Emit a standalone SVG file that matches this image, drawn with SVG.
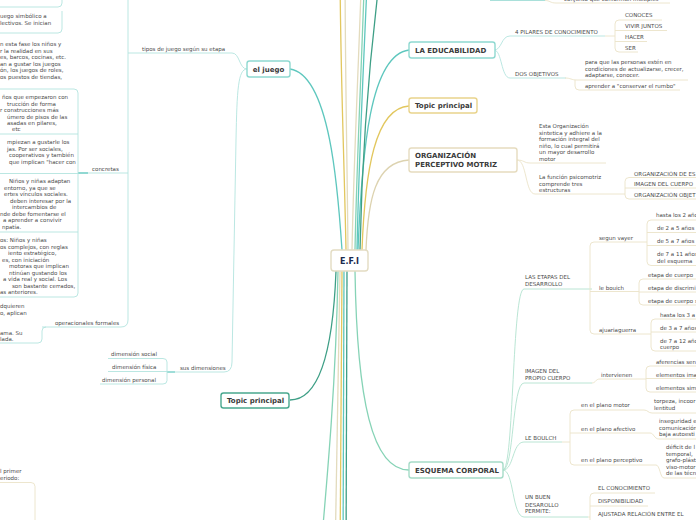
<svg xmlns="http://www.w3.org/2000/svg" width="696" height="520" viewBox="0 0 696 520">
<style>
.nb{fill:#fff;stroke-width:1.4}
.nt{font-family:"DejaVu Sans",Verdana,sans-serif;font-weight:bold;font-size:7px;fill:#3a3a3a}
.t{font-family:"DejaVu Sans",Verdana,sans-serif;font-size:5.5px;fill:#4a4a4a}
.c{fill:none;stroke-width:1.3}
.u{fill:none;stroke-width:0.9}
.tl{stroke:#b3e4df}
.be{stroke:#ebe3c8}
.gl{stroke:#b2e2cf}
.hi{fill:none;stroke:#5ec7be;stroke-width:1.2}
</style>
<rect width="696" height="520" fill="#fff"/>
<g id="connectors">
  <!-- main branches -->
  <path class="c" stroke="#5ec7be" d="M342 250 C338 190,330 75,290 69"/>
  <path class="c" stroke="#5ec7be" d="M358 250 C362 150,370 55,409 50"/>
  <path class="c" stroke="#e2c75e" d="M362 250 C365 170,375 108,409 106"/>
  <path class="c" stroke="#ddd3b0" d="M366 250 C368 200,375 162,409 160"/>
  <path class="c" stroke="#86d3b6" d="M355 271 C357 400,372 470,409 470"/>
  <path class="c" stroke="#3e9f86" d="M336 271 C333 350,320 400,290 400"/>
  <!-- branches to off-screen top -->
  <path class="c" stroke="#e2c75e" d="M346 250 C344 150,340 60,340 -40"/>
  <path class="c" stroke="#e3dbbd" d="M348 250 C347 150,345 60,345 -40"/>
  <path class="c" stroke="#e3dbbd" d="M352 250 C354 150,359 60,362 -40"/>
  <path class="c" stroke="#86d3b6" d="M355 250 C357 150,362 60,365 -40"/>
  <path class="c" stroke="#5ec7be" d="M357 250 C359 150,364 60,368 -40"/>
  <path class="c" stroke="#3e9f86" d="M360 250 C362 150,370 50,382 -40"/>
  <!-- branches to off-screen bottom -->
  <path class="c" stroke="#86d3b6" d="M338 271 C336 380,328 470,320 560"/>
  <path class="c" stroke="#e3dbbd" d="M340 271 C338 380,336 470,335 560"/>
  <path class="c" stroke="#e2c75e" d="M342 271 C341 380,340 470,340 560"/>
  <path class="c" stroke="#5ec7be" d="M344 271 C343 380,343 470,343 560"/>
  <path class="c" stroke="#3e9f86" d="M347 271 C346 380,346 470,346 560"/>

  <!-- left: el juego subtree -->
  <path class="u tl" d="M247 69 C239 69,240 53,232 53 L128 53"/>
  <path class="u tl" d="M247 69 C238 69,237 90,236 140 L232 362 Q232 372 224 372 L175 372"/>
  <path class="u tl" d="M128 -5 L128 320 Q128 327 121 327 L42 327"/>
  <path class="u tl" d="M46 327 Q42 327 42 331 L42 339 Q42 343 38 343 L0 343"/>
  <path class="u tl" d="M128 173 L78 173"/>
  <path class="hi" d="M78 173 L88 173"/>
  <path class="u tl" d="M0 89 L74 89 Q78 89 78 93 L78 293 Q78 297 74 297 L0 297"/>
  <path class="u tl" d="M0 134 L78 134 M0 173.5 L78 173.5 M0 232 L78 232"/>
  <path class="u tl" d="M0 7 L58 7 Q62 7 62 3 L62 -5"/>
  <path class="u tl" d="M62 11 L62 29 Q62 33 58 33 L0 33"/>
  <path class="hi" d="M167 372 L175 372"/>
  <path class="u tl" d="M108 358.5 L163 358.5 Q167 358.5 167 362 L167 380.5 Q167 384 163 384 L100 384 M108 371.5 L167 371.5"/>
  <path class="u be" d="M0 482.5 L31 482.5 Q35 482.5 35 486.5 L35 525"/>

  <!-- right: top partial -->
  <path class="u" stroke="#9fdcd6" d="M490 0.5 L545 0.5"/>
  <path class="u be" d="M545 0.5 C550 0.5,550 3,556 3 L670 3"/>
  <!-- LA EDUCABILIDAD -->
  <path class="u tl" d="M494 50 C502 50,501 36,510 36 L605 36"/>
  <path class="u be" d="M605 36 L615 36 M619 20 Q615 20 615 24 L615 48 Q615 52 619 52 M619 20 L662 20 M615 30.5 L667 30.5 M615 41.5 L647 41.5 M619 52 L638 52"/>
  <path class="u tl" d="M494 50 C502 50,501 78,510 78 L566 78"/>
  <path class="u be" d="M565 78 C571 78,571 80,577 80 L688 80 M575 80 L575 86 Q575 90 579 90 L680 90"/>
  <!-- ORGANIZACION -->
  <path class="u be" d="M517 160 C524 160,524 163,530 163 L606 163"/>
  <path class="u be" d="M517 160 C527 160,525 194,535 194 L623 194"/>
  <path class="u be" d="M623 194 L625 194 M629 177.5 Q625 177.5 625 181.5 L625 195 Q625 199 629 199 M629 177.5 L696 177.5 M625 188 L696 188 M629 199 L696 199"/>
  <!-- ESQUEMA CORPORAL -->
  <path class="u gl" d="M503 470 C514 470,512 289,524 289 L592 289"/>
  <path class="u gl" d="M503 470 C514 470,512 383,524 383 L592 383"/>
  <path class="u gl" d="M503 470 C514 470,512 442,524 442 L562 442"/>
  <path class="u gl" d="M503 470 C514 470,512 517,524 517 L588 517"/>
  <path class="u be" d="M594 242 Q590 242 590 246 L590 330 Q590 334 594 334 M590 291.5 L638 291.5 M594 242 L636 242 M594 334 L641 334"/>
  <path class="u be" d="M636 242 L647 242 M651 220 Q647 220 647 224 L647 261.5 Q647 265.5 651 265.5 M651 220 L696 220 M647 232.5 L696 232.5 M647 245.5 L696 245.5 M651 265.5 L696 265.5"/>
  <path class="u be" d="M638 291.5 L639 291.5 M643 279 Q639 279 639 283 L639 301 Q639 305 643 305 M643 279 L696 279 M639 292 L696 292 M643 305 L696 305"/>
  <path class="u be" d="M641 334 L651 334 M655 319 Q651 319 651 323 L651 347 Q651 351 655 351 M655 319 L696 319 M651 332 L696 332 M655 351 L696 351"/>
  <path class="u be" d="M592 383 C596 383,595 379,600 379 L646 379 M650 366 Q646 366 646 370 L646 388 Q646 392 650 392 M650 366 L696 366 M646 378.5 L696 378.5 M650 392 L696 392"/>
  <path class="u be" d="M562 442 L570 442 M574 410 Q570 410 570 414 L570 461 Q570 465 574 465 M574 410 L644 410 M570 433 L650 433 M574 465 L656 465"/>
  <path class="u be" d="M644 410 C648 410,648 413,652 413 L696 413"/>
  <path class="u be" d="M650 433 C654 433,654 439,659 439 L696 439"/>
  <path class="u be" d="M656 465 C660 465,660 478,664 478 L696 478"/>
  <path class="u be" d="M588 517 L590 517 M594 493 Q590 493 590 497 L590 525 M594 493 L655 493 M590 506 L648 506"/>
</g>

<g id="n-efi">
  <rect class="nb" x="331" y="250" width="37" height="21" rx="3" stroke="#e3dcc2" stroke-width="1.6"/>
  <text x="349.5" y="263.5" text-anchor="middle" style="font-family:'DejaVu Sans',Verdana,sans-serif;font-weight:bold;font-size:8px;fill:#1b2a4e">E.F.I</text>
</g>
<g id="n-juego">
  <rect class="nb" x="247" y="61" width="43" height="16" rx="2.5" stroke="#8fd9d1"/>
  <text class="nt" x="268.5" y="71.5" text-anchor="middle">el juego</text>
</g>
<g id="n-educabilidad">
  <rect class="nb" x="409" y="42" width="86" height="16" rx="2.5" stroke="#8fd9d1"/>
  <text class="nt" x="415" y="52.5">LA EDUCABILIDAD</text>
</g>
<g id="n-topic-right">
  <rect class="nb" x="409" y="98" width="68" height="15" rx="2.5" stroke="#e9d48c"/>
  <text class="nt" x="415" y="108">Topic principal</text>
</g>
<g id="n-organizacion">
  <rect class="nb" x="409" y="148" width="108" height="24" rx="2.5" stroke="#e6dcbf"/>
  <text class="nt" x="415" y="158">ORGANIZACIÓN</text>
  <text class="nt" x="415" y="167">PERCEPTIVO MOTRIZ</text>
</g>
<g id="n-topic-left">
  <rect class="nb" x="221" y="393" width="68" height="15" rx="2.5" stroke="#4aa88f"/>
  <text class="nt" x="227" y="403">Topic principal</text>
</g>
<g id="n-esquema">
  <rect class="nb" x="409" y="462" width="94" height="16" rx="2.5" stroke="#a6dcc8"/>
  <text class="nt" x="415" y="472.5">ESQUEMA CORPORAL</text>
</g>

<g id="left-texts" class="t">
  <text class="t" x="0" y="17.5">uego simbólico a</text>
  <text class="t" x="0" y="25">lectivos. Se inician</text>
  <text class="t" x="0" y="46">n esta fase los niños y</text>
  <text class="t" x="0" y="52.6">r la realidad en sus</text>
  <text class="t" x="0" y="59.2">es, barcos, cocinas, etc.</text>
  <text class="t" x="0" y="65.8">an a gustar los juegos</text>
  <text class="t" x="0" y="72.4">ón, los juegos de roles,</text>
  <text class="t" x="0" y="79">os puestos de tiendas,</text>
  <text class="t" x="2" y="99">ños que empezaron con</text>
  <text class="t" x="7" y="105.5">trucción de forma</text>
  <text class="t" x="0" y="112">r construcciones más</text>
  <text class="t" x="7" y="118.5">úmero de pisos de las</text>
  <text class="t" x="7" y="125">asadas en pilares,</text>
  <text class="t" x="12" y="131">etc</text>
  <text class="t" x="7" y="144">mpiezan a gustarle los</text>
  <text class="t" x="7" y="150.5">jas. Por ser sociales,</text>
  <text class="t" x="9" y="157">cooperativos y también</text>
  <text class="t" x="9" y="163.5">que implican "hacer con</text>
  <text class="t" x="9" y="183">Niños y niñas adaptan</text>
  <text class="t" x="4" y="189.5">entorno, ya que se</text>
  <text class="t" x="4" y="196">ertes vínculos sociales.</text>
  <text class="t" x="10" y="202.5">deben interesar por la</text>
  <text class="t" x="12" y="209">intercambios de</text>
  <text class="t" x="0" y="215.5">nde debe fomentarse el</text>
  <text class="t" x="3" y="222">a aprender a convivir</text>
  <text class="t" x="2" y="228.5">npatía.</text>
  <text class="t" x="0" y="242">os: Niños y niñas</text>
  <text class="t" x="0" y="248.5">os complejos, con reglas</text>
  <text class="t" x="8" y="255">iento estratégico,</text>
  <text class="t" x="2" y="261.5">es, con iniciación</text>
  <text class="t" x="9" y="268">motoras que implican</text>
  <text class="t" x="9" y="274.5">ntinúan gustando los</text>
  <text class="t" x="3" y="281">a vida real y social. Los</text>
  <text class="t" x="12" y="287.5">son bastante cerrados,</text>
  <text class="t" x="0" y="294">as anteriores.</text>
  <text class="t" x="0" y="308">dquieren</text>
  <text class="t" x="0" y="314.5">o, aplican</text>
  <text class="t" x="0" y="335">ama. Su</text>
  <text class="t" x="0" y="341">lada.</text>
  <text class="t" x="0" y="473">l primer</text>
  <text class="t" x="0" y="479.5">eriodo:</text>
</g>
<g id="s-tipos"><text class="t" x="142" y="51">tipos de juego según su etapa</text></g>
<g id="s-concretas"><text class="t" x="92" y="170.5">concretas</text></g>
<g id="s-operacionales"><text class="t" x="55" y="324.5">operacionales formales</text></g>
<g id="s-dimensiones">
  <text class="t" x="180" y="369.5">sus dimensiones</text>
  <text class="t" x="111" y="356">dimensión social</text>
  <text class="t" x="112" y="369">dimensión física</text>
  <text class="t" x="102" y="382">dimensión personal</text>
</g>

<g id="s-top-partial"><text class="t" x="564" y="1">conjunto que conforman múltiples</text></g>
<g id="s-pilares">
  <text class="t" x="515" y="34">4 PILARES DE CONOCIMIENTO</text>
  <text class="t" x="625" y="17">CONOCES</text>
  <text class="t" x="625" y="28">VIVIR JUNTOS</text>
  <text class="t" x="625" y="39">HACER</text>
  <text class="t" x="625" y="50">SER</text>
</g>
<g id="s-objetivos">
  <text class="t" x="515" y="76">DOS OBJETIVOS</text>
  <text class="t" x="585" y="64">para que las personas estén en</text>
  <text class="t" x="585" y="70.5">condiciones de actualizarse, crecer,</text>
  <text class="t" x="585" y="77">adaptarse, conocer.</text>
  <text class="t" x="585" y="88">aprender a "conservar el rumbo"</text>
</g>
<g id="s-organizacion">
  <text class="t" x="539" y="128">Esta Organización</text>
  <text class="t" x="539" y="134.5">sintetica y adhiere a la</text>
  <text class="t" x="539" y="141">formación integral del</text>
  <text class="t" x="539" y="147.5">niño, lo cual permitirá</text>
  <text class="t" x="539" y="154">un mayor desarrollo</text>
  <text class="t" x="539" y="160.5">motor</text>
  <text class="t" x="539" y="179">La función psicomotriz</text>
  <text class="t" x="539" y="185.5">comprende tres</text>
  <text class="t" x="539" y="192">estructuras</text>
  <text class="t" x="634" y="175.5">ORGANIZACIÓN DE ES</text>
  <text class="t" x="634" y="186">IMAGEN DEL CUERPO</text>
  <text class="t" x="634" y="197">ORGANIZACIÓN OBJET</text>
</g>
<g id="s-etapas">
  <text class="t" x="525" y="279">LAS ETAPAS DEL</text>
  <text class="t" x="525" y="286">DESARROLLO</text>
  <text class="t" x="599" y="240">segun vayer</text>
  <text class="t" x="599" y="289.5">le bouich</text>
  <text class="t" x="599" y="332">ajuariaguerra</text>
  <text class="t" x="656" y="217">hasta los 2 años</text>
  <text class="t" x="657" y="230">de 2 a 5 años</text>
  <text class="t" x="657" y="243">de 5 a 7 años</text>
  <text class="t" x="657" y="256.3">de 7 a 11 años</text>
  <text class="t" x="657" y="262.7">del esquema</text>
  <text class="t" x="648" y="276.5">etapa de cuerpo</text>
  <text class="t" x="648" y="289.5">etapa de discrimi</text>
  <text class="t" x="648" y="302.5">etapa de cuerpo s</text>
  <text class="t" x="660" y="316.5">hasta los 3 a</text>
  <text class="t" x="660" y="329.5">de 3 a 7 años</text>
  <text class="t" x="660" y="342.5">de 7 a 12 años</text>
  <text class="t" x="660" y="348.7">cuerpo</text>
</g>
<g id="s-imagen">
  <text class="t" x="525" y="373">IMAGEN DEL</text>
  <text class="t" x="525" y="379.5">PROPIO CUERPO</text>
  <text class="t" x="601" y="376.5">intervienen</text>
  <text class="t" x="656" y="363.5">aferencias sen</text>
  <text class="t" x="656" y="376.5">elementos ima</text>
  <text class="t" x="656" y="389.5">elementos sim</text>
</g>
<g id="s-leboulch">
  <text class="t" x="525" y="439.5">LE BOULCH</text>
  <text class="t" x="581" y="407">en el plano motor</text>
  <text class="t" x="581" y="430.5">en el plano afectivo</text>
  <text class="t" x="581" y="462">en el plano perceptivo</text>
  <text class="t" x="654" y="403">torpeza, incoor</text>
  <text class="t" x="654" y="410">lentitud</text>
  <text class="t" x="659" y="423">inseguridad e</text>
  <text class="t" x="659" y="429.5">comunicación</text>
  <text class="t" x="659" y="436">baja autoesti</text>
  <text class="t" x="666" y="449">déficit de l</text>
  <text class="t" x="666" y="455.5">temporal,</text>
  <text class="t" x="666" y="462">grafo-plást</text>
  <text class="t" x="666" y="468.5">viso-motor</text>
  <text class="t" x="666" y="475">de las técn</text>
</g>
<g id="s-desarrollo">
  <text class="t" x="525" y="499">UN BUEN</text>
  <text class="t" x="525" y="506.5">DESAROLLO</text>
  <text class="t" x="525" y="513">PERMITE:</text>
  <text class="t" x="598" y="490">EL CONOCIMIENTO</text>
  <text class="t" x="598" y="503">DISPONIBILIDAD</text>
  <text class="t" x="598" y="516">AJUSTADA RELACIÓN ENTRE EL</text>
</g>
</svg>
